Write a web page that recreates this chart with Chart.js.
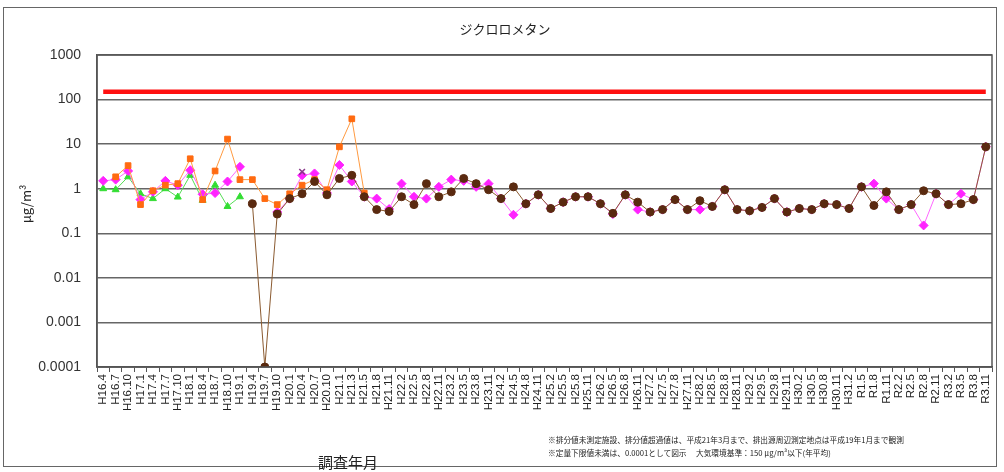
<!DOCTYPE html>
<html>
<head>
<meta charset="utf-8">
<script src="https://cdn.jsdelivr.net/npm/chart.js@4.4.1/dist/chart.umd.min.js"></script>
<style>
  html, body { margin: 0; padding: 0; background: #fff; }
  #wrap { position: relative; width: 1004px; height: 472px; font-family: "Noto Sans CJK JP", sans-serif; }
  #frame { position: absolute; left: 3px; top: 7px; width: 994px; height: 460px; border: 1.5px solid #666; box-sizing: border-box; }
  canvas { position: absolute; left: 0; top: 0; }
  .txt { position: absolute; color: #222; white-space: nowrap; }
  #title { left: 0; width: 1010px; top: 19px; text-align: center; font-size: 13px; }
  #ytitle { left: 25px; top: 204px; font-size: 13px; transform: translate(-50%, -50%) rotate(-90deg); }
  #xtitle { left: 318px; top: 451px; font-size: 15px; }
  #note { left: 548px; top: 433px; font-size: 7.7px; line-height: 13px; }
</style>
</head>
<body>
<div id="wrap">
  <canvas id="c" width="1004" height="472"></canvas>
  <div id="frame"></div>
  <div class="txt" id="title">ジクロロメタン</div>
  <div class="txt" id="ytitle">μg/m³</div>
  <div class="txt" id="xtitle">調査年月</div>
  <div class="txt" id="note">※排分値未測定施設、排分値超過値は、平成21年3月まで、排出源周辺測定地点は平成19年1月まで観測<br>※定量下限値未満は、0.0001として図示　 大気環境基準：150 μg/m³以下(年平均)</div>
</div>
<script>
// 調査年月 (quarterly)
const months = [
  'H16.4', 'H16.7', 'H16.10', 'H17.1', 'H17.4', 'H17.7', 'H17.10', 'H18.1', 'H18.4', 'H18.7', 'H18.10', 'H19.1',
  'H19.4', 'H19.7', 'H19.10', 'H20.1', 'H20.4', 'H20.7', 'H20.10', 'H21.1', 'H21.3', 'H21.5',
  'H21.8', 'H21.11', 'H22.2', 'H22.5', 'H22.8', 'H22.11', 'H23.2', 'H23.5', 'H23.8', 'H23.11', 'H24.2', 'H24.5',
  'H24.8', 'H24.11', 'H25.2', 'H25.5', 'H25.8', 'H25.11', 'H26.2', 'H26.5', 'H26.8', 'H26.11', 'H27.2', 'H27.5',
  'H27.8', 'H27.11', 'H28.2', 'H28.5', 'H28.8', 'H28.11', 'H29.2', 'H29.5', 'H29.8', 'H29.11', 'H30.2', 'H30.5',
  'H30.8', 'H30.11', 'H31.2', 'R1.5', 'R1.8', 'R1.11', 'R2.2', 'R2.5', 'R2.8', 'R2.11', 'R3.2', 'R3.5', 'R3.8', 'R3.11'
];

const siteGreen = [1.0, 0.95, 1.85, 0.77, 0.6, 1.0, 0.65, 2.0, 0.55, 1.2, 0.4, 0.66];
const siteOrange = [null, 1.85, 3.3, 0.44, 0.9, 1.2, 1.3, 4.7, 0.57, 2.5, 13, 1.6,
  1.6, 0.6, 0.44, 0.77, 1.2, 1.6, 0.95, 8.7, 37, 0.8];
const siteCross = [null, null, null, null, null, null, null, null, null, null, null, null,
  null, null, null, null, 2.4];
const siteMagenta = [1.5, 1.6, 2.5, 0.57, 0.85, 1.5, 1.2, 2.6, 0.75, 0.8, 1.45, 3.1,
  null, null, 0.3, 0.6, 2.0, 2.2, 0.8, 3.4, 1.45, 0.66,
  0.6, 0.35, 1.3, 0.66, 0.6, 1.1, 1.6, 1.5, 1.1, 1.3, 0.6, 0.26,
  0.46, 0.73, 0.36, 0.5, 0.66, 0.66, 0.46, 0.27, 0.73, 0.34, 0.3, 0.34,
  0.57, 0.34, 0.34, 0.4, 0.95, 0.34, 0.32, 0.38, 0.6, 0.3, 0.36, 0.34,
  0.46, 0.44, 0.36, 1.1, 1.3, 0.6, 0.34, 0.44, 0.15, 0.77, 0.44, 0.77, 0.57, 8.7];
const siteBrown = [null, null, null, null, null, null, null, null, null, null, null, null,
  0.46, 0.0001, 0.27, 0.6, 0.77, 1.45, 0.73, 1.7, 2.0, 0.66,
  0.34, 0.31, 0.66, 0.44, 1.3, 0.66, 0.85, 1.7, 1.3, 0.95, 0.6, 1.1,
  0.46, 0.73, 0.36, 0.5, 0.66, 0.66, 0.46, 0.28, 0.73, 0.5, 0.3, 0.34,
  0.57, 0.34, 0.54, 0.4, 0.95, 0.34, 0.32, 0.38, 0.6, 0.3, 0.36, 0.34,
  0.46, 0.44, 0.36, 1.1, 0.42, 0.85, 0.34, 0.44, 0.9, 0.77, 0.44, 0.46, 0.57, 8.7];

const standardValue = 150; // 大気環境基準
const yTicks = [0.0001, 0.001, 0.01, 0.1, 1, 10, 100, 1000];
const yTickText = ['0.0001', '0.001', '0.01', '0.1', '1', '10', '100', '1000'];

const ds = (data, color, lineColor, style, radius, extra) => Object.assign({
  data: data,
  borderColor: lineColor,
  backgroundColor: color,
  pointBorderColor: color,
  pointBackgroundColor: color,
  pointStyle: style,
  pointRadius: radius,
  borderWidth: 1,
  tension: 0,
  spanGaps: false
}, extra || {});

// first dataset is drawn on top
new Chart(document.getElementById('c'), {
  type: 'line',
  data: {
    labels: months,
    datasets: [
      ds(siteBrown, '#5a2a10', '#8a5a30', 'circle', 4),
      ds(siteCross, '#8a3a8a', '#8a3a8a', 'crossRot', 4, { pointBorderWidth: 1.5 }),
      ds(siteOrange, '#ff6a10', '#ff9a40', 'rect', 4),
      ds(siteMagenta, '#ff22ff', '#ff66ff', 'rectRot', 4.5),
      ds(siteGreen, '#33dd33', '#55dd55', 'triangle', 4),
      ds(months.map(() => standardValue), '#ff1010', '#ff1010', 'circle', 0, { borderWidth: 4.5 })
    ]
  },
  options: {
    responsive: false,
    animation: false,
    layout: { padding: { left: 0, right: 12, top: 55, bottom: 47 } },
    plugins: { legend: { display: false }, tooltip: { enabled: false } },
    scales: {
      x: {
        offset: true,
        grid: { drawOnChartArea: false, color: '#555', tickLength: 5, offset: true },
        border: { color: '#555', width: 1.5 },
        ticks: {
          autoSkip: false, maxRotation: 90, minRotation: 90, padding: 2,
          color: '#222', font: { size: 11.5, family: 'Liberation Sans' }
        },
        afterFit: (s) => { s.height = 58; }
      },
      y: {
        type: 'logarithmic',
        min: 0.0001,
        max: 1000,
        afterBuildTicks: (s) => { s.ticks = yTicks.map(v => ({ value: v })); },
        grid: { color: '#666', lineWidth: 1.5, drawTicks: false },
        border: { color: '#555', width: 1.5 },
        ticks: {
          padding: 16,
          color: '#333',
          font: { size: 14, family: 'Liberation Sans' },
          callback: (v) => yTickText[yTicks.indexOf(v)]
        },
        afterFit: (s) => { s.width = 97; }
      }
    }
  },
  plugins: [{
    id: 'plotFrame',
    afterDraw(chart) {
      const { ctx, chartArea: a } = chart;
      ctx.save();
      ctx.strokeStyle = '#555';
      ctx.lineWidth = 1.5;
      ctx.strokeRect(a.left, a.top, a.right - a.left, a.bottom - a.top);
      ctx.restore();
    }
  }]
});
</script>
</body>
</html>
